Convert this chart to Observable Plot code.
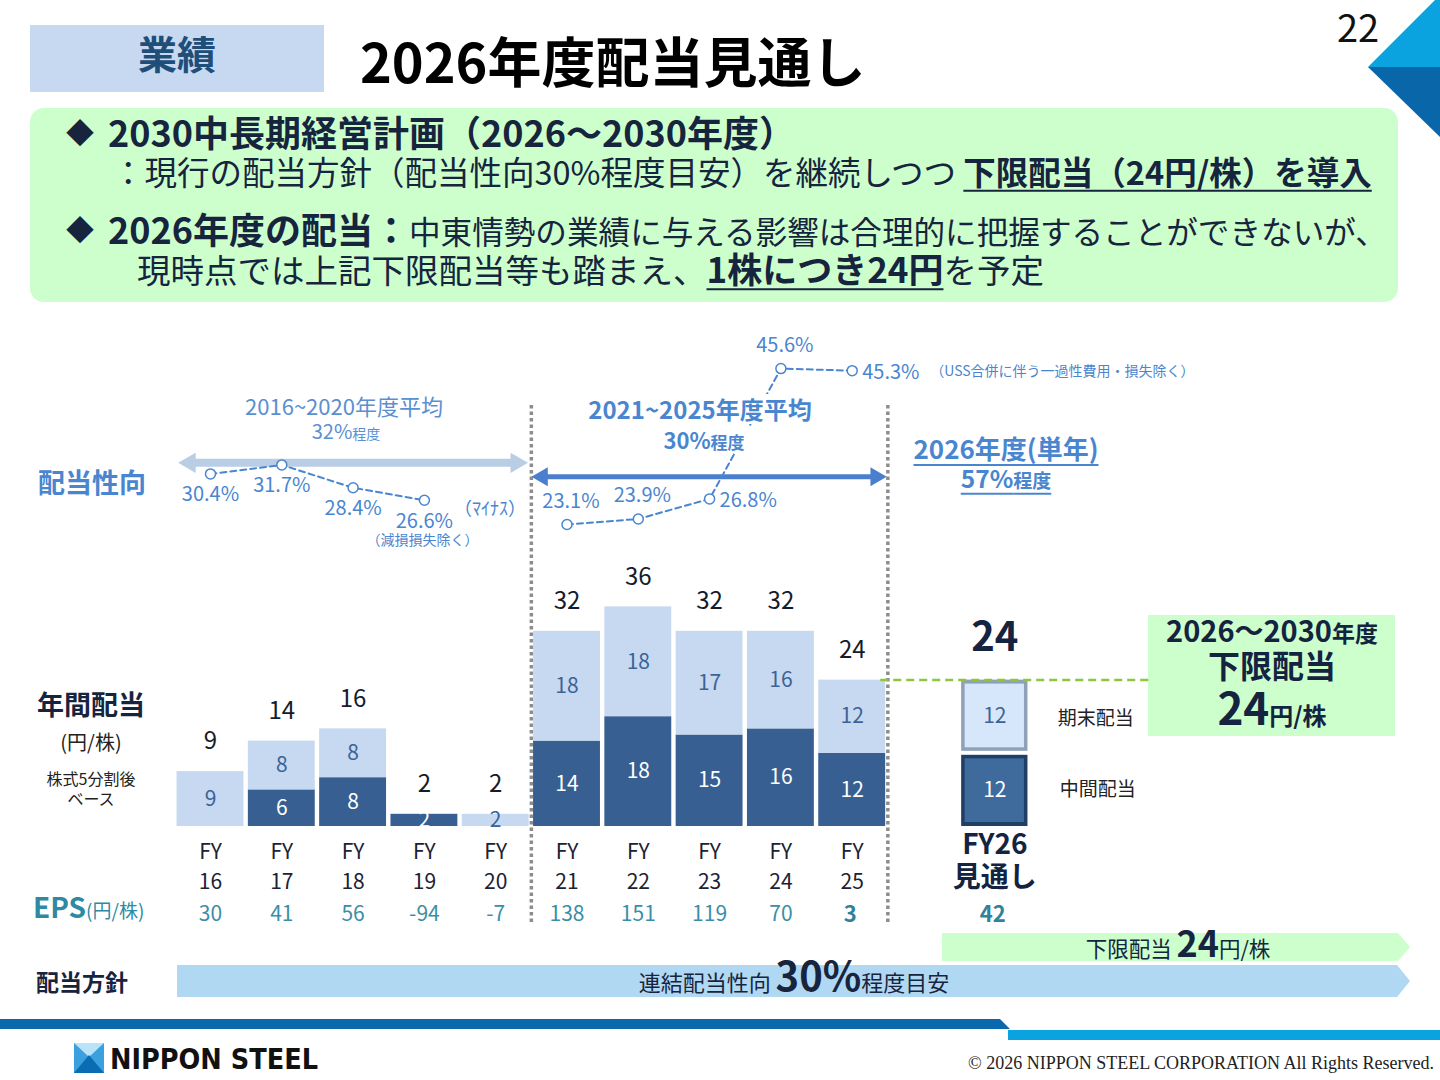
<!DOCTYPE html>
<html lang="ja">
<head>
<meta charset="utf-8">
<title>2026年度配当見通し</title>
<script src="https://cdn.jsdelivr.net/npm/d3@7"></script>
<script src="https://cdn.jsdelivr.net/npm/@observablehq/plot@0.6"></script>
<style>
  html, body { margin: 0; padding: 0; background: #fff; }
  body { width: 1440px; height: 1080px; position: relative; overflow: hidden;
         font-family: "Noto Sans CJK JP", "Noto Sans", sans-serif; color: #17243d; }
  .a { position: absolute; white-space: nowrap; line-height: 1; }
  .c { position: absolute; white-space: nowrap; line-height: 1; transform: translate(-50%, -50%); }
  .l { position: absolute; white-space: nowrap; line-height: 1; transform: translateY(-50%); }
  .b { font-weight: 700; }
  .u { text-decoration: underline; text-underline-offset: 5px; text-decoration-thickness: 2px; }
  .plot { position: absolute; left: 0; z-index: 1; }
  .blue { color: #4a86cf; }
  .mask { z-index: 10; background: #fff; padding: 3px 5px; }
</style>
</head>
<body>

<!-- header -->
<div class="a" style="left:30px;top:25px;width:294px;height:67px;background:#c6d9f0;"></div>
<div class="c b" style="left:177px;top:52px;font-size:39px;color:#1f4e79;">業績</div>
<div class="l b" style="left:360px;top:60px;font-size:54px;color:#000;">2026年度配当見通し</div>
<div class="c" style="left:1358px;top:26px;font-size:38px;color:#111;">22</div>
<svg class="a" style="left:1368px;top:0" width="72" height="137">
  <polygon points="67,0 0,67 72,67 72,0" fill="#0aa3e0"/>
  <polygon points="0,67 72,67 72,137" fill="#0866a9"/>
</svg>

<!-- key points -->
<div class="a" style="left:30px;top:108px;width:1368px;height:194px;background:#ccffcc;border-radius:14px;"></div>
<div class="c" style="left:80px;top:132px;font-size:28px;color:#17243d;">◆</div>
<div class="l b" style="left:108px;top:131px;font-size:36px;">2030中長期経営計画（2026～2030年度）</div>
<div class="l" style="left:112px;top:171px;font-size:32.5px;">：現行の配当方針（配当性向30%程度目安）を継続しつつ <span class="b u">下限配当（24円/株）を導入</span></div>
<div class="c" style="left:80px;top:229px;font-size:28px;color:#17243d;">◆</div>
<div class="l" style="left:108px;top:228px;font-size:31.6px;"><span class="b" style="font-size:36px;">2026年度の配当：</span>中東情勢の業績に与える影響は合理的に把握することができないが、</div>
<div class="l" style="left:137px;top:268px;font-size:33.5px;">現時点では上記下限配当等も踏まえ、<span class="b u" style="font-size:35px;">1株につき24円</span>を予定</div>

<!-- row titles -->
<div class="c b blue" style="left:92px;top:481px;font-size:27px;">配当性向</div>
<div class="c b" style="left:91px;top:703px;font-size:27px;color:#17243d;">年間配当</div>
<div class="c" style="left:91px;top:742px;font-size:20px;color:#222;">(円/株)</div>
<div class="c" style="left:91px;top:778px;font-size:16px;color:#222;">株式5分割後</div>
<div class="c" style="left:91px;top:798px;font-size:16px;color:#222;">ベース</div>
<div class="l b" style="left:33px;top:906px;font-size:28px;color:#2e8aa3;">EPS<span style="font-size:19px;font-weight:400;">(円/株)</span></div>
<div class="c b" style="left:82px;top:981px;font-size:23px;color:#17243d;">配当方針</div>

<!-- period captions -->
<div class="c" style="left:344px;top:405px;font-size:22px;color:#5b8fd2;">2016~2020年度平均</div>
<div class="c" style="left:346px;top:431px;font-size:20px;color:#5b8fd2;">32%<span style="font-size:14px;">程度</span></div>
<div class="c b blue mask" style="left:700px;top:409px;font-size:24px;">2021~2025年度平均</div>
<div class="c b blue mask" style="left:704px;top:439px;font-size:22px;">30%<span style="font-size:17px;">程度</span></div>
<div class="c b blue u" style="left:1006px;top:448px;font-size:26px;">2026年度(単年) </div>
<div class="c b blue u" style="left:1006px;top:478px;font-size:24.5px;">57%<span style="font-size:19px;">程度</span></div>
<div class="c blue" style="left:490px;top:507px;font-size:18px;">（ﾏｲﾅｽ）</div>

<!-- floor dividend box -->
<div class="a" style="left:1148px;top:615px;width:247px;height:121px;background:#ccffcc;"></div>
<div class="c b" style="left:1272px;top:629px;font-size:29px;color:#14233f;">2026～2030<span style="font-size:23px;">年度</span></div>
<div class="c b" style="left:1272px;top:664px;font-size:32px;color:#14233f;">下限配当</div>
<div class="c b" style="left:1272px;top:706px;font-size:44px;color:#14233f;">24<span style="font-size:24px;">円/株</span></div>

<!-- dividend policy -->
<div class="a" style="left:942px;top:933px;width:468px;height:28px;background:#ccffcc;clip-path:polygon(0 0, 456px 0, 100% 50%, 456px 100%, 0 100%);"></div>
<div class="a" style="left:177px;top:965px;width:1233px;height:32px;background:#b1d8f3;clip-path:polygon(0 0, 1220px 0, 100% 50%, 1220px 100%, 0 100%);"></div>
<div class="c" style="left:1178px;top:941px;font-size:21.5px;color:#17243d;">下限配当 <span class="b" style="font-size:36px;">24</span>円/株</div>
<div class="c" style="left:794px;top:974px;font-size:22px;color:#17243d;">連結配当性向 <span class="b" style="font-size:40px;">30%</span>程度目安</div>

<!-- footer -->
<div class="a" style="left:0;top:1019px;width:1010px;height:10px;background:#0a69ad;clip-path:polygon(0 0, 1000px 0, 100% 100%, 0 100%);"></div>
<div class="a" style="left:1008px;top:1030px;width:432px;height:10px;background:#0aa3e0;"></div>
<svg class="a" style="left:74px;top:1043px" width="30" height="30">
  <rect width="30" height="30" fill="#3aa0de"/>
  <polygon points="0,0 30,0 15,14" fill="#b8e3f8"/>
  <polygon points="0,30 15,12 30,30" fill="#0a6db3"/>
</svg>
<div id="logo" class="l b" style="left:110px;top:1059px;font-family:'DejaVu Sans';font-size:29px;color:#111;transform-origin:0 50%;">NIPPON STEEL</div>
<div id="copy" class="l" style="right:6px;top:1063px;font-family:'Liberation Serif';font-size:18px;color:#222;">© 2026 NIPPON STEEL CORPORATION All Rights Reserved.</div>

<div id="bars" class="plot" style="top:320px;"></div>
<div id="ratio" class="plot" style="top:320px;"></div>

<script>
// Dividend per share (yen, post 5-for-1 split basis), interim / year-end
const fiscalYears = ["FY16", "FY17", "FY18", "FY19", "FY20", "FY21", "FY22", "FY23", "FY24", "FY25", "FY26"];
const interimDividend = [0, 6, 8, 2, 0, 14, 18, 15, 16, 12, 12];
const yearEndDividend = [9, 8, 8, 0, 2, 18, 18, 17, 16, 12, 12];
const annualDividend = [9, 14, 16, 2, 2, 32, 36, 32, 32, 24, 24];
const epsYen = [30, 41, 56, -94, -7, 138, 151, 119, 70, 3, 42];

// Payout ratio (%); FY20 was negative and is left out
const payoutYears = ["FY16", "FY17", "FY18", "FY19", "FY21", "FY22", "FY23", "FY24", "FY25"];
const payoutRatio = [30.4, 31.7, 28.4, 26.6, 23.1, 23.9, 26.8, 45.6, 45.3];

// Medium-term plan periods and their average payout ratio (%)
const periodNames = ["2016~2020年度", "2021~2025年度"];
const periodFirst = ["FY16", "FY21"];
const periodLast = ["FY20", "FY25"];
const periodAverage = [32, 30];

const floorDividend = 24;
const forecastYear = "FY26";
const latestActual = "FY25";

// the forecast year sits one empty slot to the right of the actuals
const slotOf = fy => fy === forecastYear ? fiscalYears.length : fiscalYears.indexOf(fy);

const xScale = {domain: [-0.5, 11.5], range: [174.35, 1029.95], axis: null};
const font = "Noto Sans CJK JP";
const light = "#c6d9f0", dark = "#375f91", ink = "#141c2c", teal = "#3a8ea6", lineBlue = "#4a86cf";

const rows = fiscalYears.map((fy, i) => ({
  fy, slot: slotOf(fy),
  interim: interimDividend[i], yearEnd: yearEndDividend[i], total: annualDividend[i], eps: epsYen[i]
}));
const actual = rows.filter(d => d.fy !== forecastYear);
const forecast = rows.filter(d => d.fy === forecastYear);

const left = d => d.slot - 0.5, right = d => d.slot + 0.5, base = () => 0;

const bars = Plot.plot({
  width: 1440, height: 620,
  marginTop: 85, marginBottom: 15, marginLeft: 0, marginRight: 0,
  x: xScale,
  y: {domain: [0, 36], range: [506, 286.4], axis: null},
  style: {background: "transparent", fontFamily: font, overflow: "visible"},
  marks: [
    // boundaries between plan periods
    Plot.ruleX(periodLast, {x: d => slotOf(d) + 0.5, stroke: "#8d8d8d", strokeWidth: 3.5, strokeDasharray: "3.5,3"}),

    // actual dividends: interim below, year-end on top
    Plot.rectY(actual.filter(d => d.interim > 0), {x1: left, x2: right, y1: base, y2: "interim", fill: dark, insetLeft: 2.2, insetRight: 2.2}),
    Plot.rectY(actual.filter(d => d.yearEnd > 0), {x1: left, x2: right, y1: "interim", y2: d => d.interim + d.yearEnd, fill: light, insetLeft: 2.2, insetRight: 2.2}),
    Plot.text(actual.filter(d => d.interim > 0), {x: "slot", y: d => d.interim / 2, text: "interim", fill: "white", fontSize: 21}),
    Plot.text(actual.filter(d => d.yearEnd > 0), {x: "slot", y: d => d.interim + d.yearEnd / 2, text: "yearEnd", fill: "#3b6396", fontSize: 21}),
    Plot.text(actual, {x: "slot", y: "total", text: "total", dy: -30, fontSize: 24, fill: ink}),

    // forecast bar with bevelled segments
    Plot.rectY(forecast, {x1: left, x2: right, y1: "interim", y2: "total", fill: "#8fa0b8", insetLeft: 2.5, insetRight: 2.5, insetBottom: 2}),
    Plot.rectY(forecast, {x1: left, x2: right, y1: "interim", y2: "total", fill: "#d7e7fb", insetLeft: 6, insetRight: 6, insetBottom: 5.5, insetTop: 4}),
    Plot.rectY(forecast, {x1: left, x2: right, y1: base, y2: "interim", fill: "#1f3f66", insetLeft: 2.5, insetRight: 2.5, insetTop: 2}),
    Plot.rectY(forecast, {x1: left, x2: right, y1: base, y2: "interim", fill: "#3e6a9c", insetLeft: 6, insetRight: 6, insetTop: 5.5, insetBottom: 4}),
    Plot.text(forecast, {x: "slot", y: d => d.interim + d.yearEnd / 2, text: "yearEnd", fill: "#3b6396", fontSize: 21}),
    Plot.text(forecast, {x: "slot", y: d => d.interim / 2, text: "interim", fill: "white", fontSize: 21}),
    Plot.text(forecast, {x: "slot", y: "total", text: "total", dy: -42, fontSize: 40, fontWeight: "bold", fill: "#14233f"}),
    Plot.text(forecast, {x: "slot", y: d => d.interim + d.yearEnd / 2, text: () => "期末配当", dx: 63, dy: 2, textAnchor: "start", fontSize: 19, fill: "#222"}),
    Plot.text(forecast, {x: "slot", y: d => d.interim / 2, text: () => "中間配当", dx: 65, textAnchor: "start", fontSize: 19, fill: "#222"}),

    // fiscal year labels and EPS row
    Plot.text(actual, {x: "slot", y: base, text: d => d.fy.replace("FY", "FY\n"), dy: 37.5, lineHeight: 1.43, fontSize: 21, fill: "#1b2233"}),
    Plot.text(forecast, {x: "slot", y: base, text: d => d.fy, dy: 19, fontSize: 28, fontWeight: "bold", fill: "#14233f"}),
    Plot.text(forecast, {x: "slot", y: base, text: () => "見通し", dy: 52, fontSize: 28, fontWeight: "bold", fill: "#14233f"}),
    Plot.text(actual.filter(d => d.fy !== latestActual), {x: "slot", y: base, text: "eps", dy: 88, fontSize: 21, fill: teal}),
    Plot.text(rows.filter(d => d.fy === latestActual || d.fy === forecastYear), {x: "slot", y: base, text: "eps", dy: 88, dx: -2, fontSize: 22, fontWeight: "bold", fill: "#2f8299"}),

    // floor dividend level
    Plot.ruleY([floorDividend], {y: d => d, x1: () => slotOf(latestActual) + 0.4, x2: () => 13.16, stroke: "#8cc63f", strokeWidth: 2.5, strokeDasharray: "8,5"})
  ]
});
document.getElementById("bars").append(bars);

// payout ratio line
const firstPeriodEnd = fiscalYears.indexOf(periodLast[0]);
const ratioRows = payoutYears.map((fy, i) => ({
  fy, slot: slotOf(fy), ratio: payoutRatio[i],
  period: periodNames[fiscalYears.indexOf(fy) <= firstPeriodEnd ? 0 : 1]
}));
const periodRows = periodNames.map((name, k) => ({
  name, avg: periodAverage[k],
  x1: slotOf(periodFirst[k]) - 0.5, x2: slotOf(periodLast[k]) + 0.5
}));
const labelPlacement = {FY16: "below", FY17: "below", FY18: "below", FY19: "below",
                        FY21: "above", FY22: "above", FY23: "right", FY24: "above", FY25: "right"};
const ratioNotes = [
  {fy: "FY19", note: "（減損損失除く）"},
  {fy: "FY25", note: "（USS合併に伴う一過性費用・損失除く）"}
].map(n => ({...n, slot: slotOf(n.fy), ratio: payoutRatio[payoutYears.indexOf(n.fy)]}));
const placed = p => ratioRows.filter(d => labelPlacement[d.fy] === p);
const pct = d => d.ratio.toFixed(1) + "%";

const ratio = Plot.plot({
  width: 1440, height: 240,
  marginTop: 0, marginBottom: 0, marginLeft: 0, marginRight: 0,
  x: xScale,
  y: {domain: [0, 50], range: [364.1, 17.6], axis: null},
  style: {background: "transparent", fontFamily: font, overflow: "visible"},
  marks: [
    // period average spans (double-headed arrows)
    Plot.ruleY(periodRows.slice(0, 1), {y: "avg", x1: "x1", x2: "x2", stroke: "#b9cde5", strokeWidth: 8, insetLeft: 15, insetRight: 15}),
    Plot.dot(periodRows.slice(0, 1), {x: "x1", y: "avg", symbol: "triangle", r: 7.5, rotate: -90, dx: 15, fill: "#b9cde5"}),
    Plot.dot(periodRows.slice(0, 1), {x: "x2", y: "avg", symbol: "triangle", r: 7.5, rotate: 90, dx: -15, fill: "#b9cde5"}),
    Plot.ruleY(periodRows.slice(1), {y: "avg", x1: "x1", x2: "x2", stroke: "#4b7fce", strokeWidth: 5, insetLeft: 11, insetRight: 12}),
    Plot.dot(periodRows.slice(1), {x: "x1", y: "avg", symbol: "triangle", r: 7, rotate: -90, dx: 11, fill: "#4b7fce"}),
    Plot.dot(periodRows.slice(1), {x: "x2", y: "avg", symbol: "triangle", r: 7, rotate: 90, dx: -12, fill: "#4b7fce"}),

    Plot.line(ratioRows, {x: "slot", y: "ratio", z: "period", stroke: lineBlue, strokeWidth: 2, strokeDasharray: "6,4"}),
    Plot.dot(ratioRows, {x: "slot", y: "ratio", r: 5, fill: "white", stroke: lineBlue, strokeWidth: 1.5}),

    Plot.text(placed("below"), {x: "slot", y: "ratio", text: pct, dy: 21, fontSize: 20, fill: lineBlue}),
    Plot.text(placed("above"), {x: "slot", y: "ratio", text: pct, dy: -23, dx: 4, fontSize: 20, fill: lineBlue}),
    Plot.text(placed("right"), {x: "slot", y: "ratio", text: pct, dx: 10, dy: 2, textAnchor: "start", fontSize: 20, fill: lineBlue}),
    Plot.text(ratioNotes.filter(d => d.fy === "FY19"), {x: "slot", y: "ratio", text: "note", dy: 40, dx: -2, fontSize: 14, fill: lineBlue}),
    Plot.text(ratioNotes.filter(d => d.fy === "FY25"), {x: "slot", y: "ratio", text: "note", dx: 78, dy: 1, textAnchor: "start", fontSize: 14, fill: lineBlue})
  ]
});
document.getElementById("ratio").append(ratio);

// fit the logotype to its slot
const logo = document.getElementById("logo");
logo.style.transform = `translateY(-50%) scaleX(${208 / logo.getBoundingClientRect().width})`;
</script>
</body>
</html>
